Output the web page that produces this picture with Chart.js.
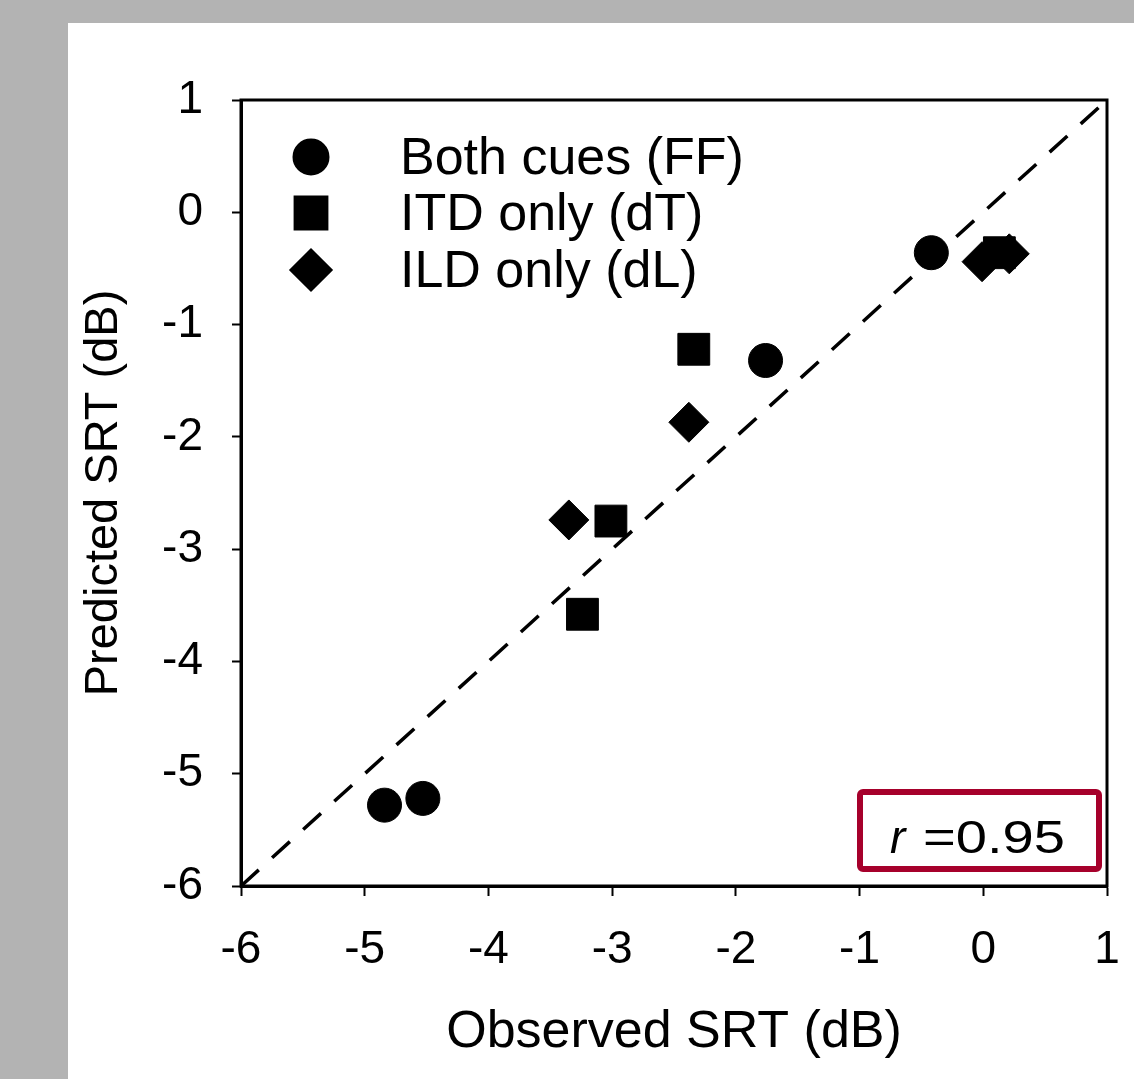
<!DOCTYPE html>
<html>
<head>
<meta charset="utf-8">
<script src="https://cdn.jsdelivr.net/npm/chart.js@4/dist/chart.umd.min.js"></script>
<style>
  html, body { margin: 0; padding: 0; background: #b3b3b3; }
  #panel { position: absolute; left: 68px; top: 23px; width: 1066px; height: 1056px; background: #fff; }
</style>
</head>
<body>
<div id="panel"><canvas id="SrtChart"></canvas></div>
<script>
// observed vs predicted SRT (dB)
const bothObserved = [-4.84, -4.53, -1.76, -0.42];
const bothPredicted = [-5.28, -5.22, -1.32, -0.36];

const itdObserved = [-2.34, -3.01, -3.24, 0.13];
const itdPredicted = [-1.22, -2.75, -3.58, -0.36];

const ildObserved = [-3.35, -2.38, -0.01, 0.21];
const ildPredicted = [-2.74, -1.87, -0.44, -0.37];

const unityLine = [-6, 1];
const axisTicks = [-6, -5, -4, -3, -2, -1, 0, 1];

const seriesLabels = ['Both cues (FF)', 'ITD only (dT)', 'ILD only (dL)'];
const rValue = '0.95';

const font = 'Liberation Sans, Arial, Helvetica, sans-serif';

function toPoints(xs, ys) {
    return xs.map((x, i) => ({ x: x, y: ys[i] }));
}

const pointStyles = [
    { pointStyle: 'circle', radius: 17 },
    { pointStyle: 'rect', radius: 22.5 },
    { pointStyle: 'rectRot', radius: 20 }
];

const scatter_data = {
    datasets: [
        {
            label: seriesLabels[0],
            data: toPoints(bothObserved, bothPredicted),
            pointStyle: 'circle',
            pointRadius: 17,
            backgroundColor: '#000',
            borderColor: '#000',
            borderWidth: 1,
            order: 1
        },
        {
            label: seriesLabels[1],
            data: toPoints(itdObserved, itdPredicted),
            pointStyle: 'rect',
            pointRadius: 22.5,
            backgroundColor: '#000',
            borderColor: '#000',
            borderWidth: 1,
            order: 1
        },
        {
            label: seriesLabels[2],
            data: toPoints(ildObserved, ildPredicted),
            pointStyle: 'rectRot',
            pointRadius: 20,
            backgroundColor: '#000',
            borderColor: '#000',
            borderWidth: 1,
            order: 1
        },
        {
            type: 'line',
            label: 'unity',
            data: toPoints(unityLine, unityLine),
            borderColor: '#000',
            borderWidth: 3.5,
            borderDash: [24, 18],
            pointRadius: 0,
            fill: false,
            order: 10
        }
    ]
};

// frame, legend inside plot and r box
const overlay = {
    id: 'overlay',
    afterDatasetsDraw(chart) {
        const ctx = chart.ctx;
        const a = chart.chartArea;
        ctx.save();
        ctx.strokeStyle = '#000';
        ctx.lineWidth = 3;
        ctx.strokeRect(a.left, a.top, a.right - a.left, a.bottom - a.top);

        ctx.fillStyle = '#000';
        ctx.font = '52px ' + font;
        ctx.textBaseline = 'middle';
        ctx.textAlign = 'left';
        const rows = [57, 113, 170];
        seriesLabels.forEach((label, i) => {
            const y = a.top + rows[i];
            const st = pointStyles[i];
            Chart.helpers.drawPoint(ctx, {
                pointStyle: st.pointStyle, radius: st.radius, rotation: 0, borderWidth: 1
            }, a.left + 70, y);
            ctx.fillStyle = '#000';
            ctx.fill();
            ctx.fillText(label, a.left + 159, y + 3);
        });

        // r box
        ctx.strokeStyle = '#a6002b';
        ctx.lineWidth = 6;
        ctx.beginPath();
        ctx.roundRect(a.left + 619, a.bottom - 94, (a.right - 8) - (a.left + 619), 77, 3);
        ctx.stroke();

        ctx.fillStyle = '#000';
        ctx.textBaseline = 'alphabetic';
        ctx.font = 'italic 46px ' + font;
        ctx.fillText('r', a.left + 649, a.bottom - 33);
        ctx.translate(a.left + 682, a.bottom - 33);
        ctx.scale(1.22, 1);
        ctx.font = '46px ' + font;
        ctx.fillText('=' + rValue, 0, 0);
        ctx.restore();
    }
};

const configScatter = {
    type: 'scatter',
    data: scatter_data,
    options: {
        responsive: true,
        maintainAspectRatio: false,
        animation: false,
        layout: {
            padding: { top: 77, right: 0, left: 0, bottom: 0 }
        },
        plugins: {
            legend: { display: false },
            tooltip: { enabled: false }
        },
        scales: {
            x: {
                type: 'linear',
                min: -6,
                max: 1,
                afterBuildTicks: (scale) => { scale.ticks = axisTicks.map(v => ({ value: v })); },
                afterFit: (scale) => {
                    scale.height = 193;
                    scale.paddingLeft = 0;
                    scale.paddingRight = 27;
                },
                grid: {
                    drawOnChartArea: false,
                    drawTicks: true,
                    tickLength: 10,
                    tickWidth: 2,
                    tickColor: '#000'
                },
                border: { display: true, color: '#000', width: 3 },
                ticks: {
                    color: '#000',
                    font: { family: font, size: 46 },
                    padding: 27,
                    maxRotation: 0
                },
                title: {
                    display: true,
                    text: 'Observed SRT (dB)',
                    color: '#000',
                    font: { family: font, size: 52 },
                    padding: { top: 0, bottom: 15 }
                }
            },
            y: {
                type: 'linear',
                min: -6,
                max: 1,
                afterBuildTicks: (scale) => { scale.ticks = axisTicks.map(v => ({ value: v })); },
                afterFit: (scale) => { scale.width = 173; },
                grid: {
                    drawOnChartArea: false,
                    drawTicks: true,
                    tickLength: 9,
                    tickWidth: 2,
                    tickColor: '#000'
                },
                border: { display: true, color: '#000', width: 3 },
                ticks: {
                    color: '#000',
                    font: { family: font, size: 46 },
                    padding: 29
                },
                title: {
                    display: true,
                    text: 'Predicted SRT (dB)',
                    color: '#000',
                    font: { family: font, size: 47 },
                    padding: { top: 8, bottom: 0 }
                }
            }
        }
    },
    plugins: [overlay]
};

const SrtChart = new Chart(
    document.getElementById('SrtChart'),
    configScatter
);
</script>
</body>
</html>
